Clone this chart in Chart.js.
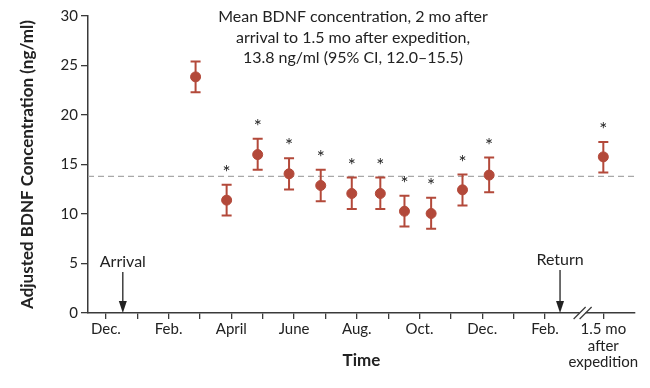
<!DOCTYPE html>
<html>
<head>
<meta charset="utf-8">
<script src="https://cdn.jsdelivr.net/npm/chart.js@4"></script>
<style>
  html, body { margin: 0; padding: 0; background: #fff; }
  #wrap { width: 650px; height: 388px; }
</style>
</head>
<body>
<div id="wrap"><canvas id="bdnfChart"></canvas></div>
<script>
// months counted from the first December (0 = Dec.)
const timePoints = [2.86, 3.85, 4.84, 5.84, 6.85, 7.84, 8.75, 9.52, 10.37, 11.37, 12.22, 15.86];
const meanValues = [23.85, 11.4, 16.0, 14.06, 12.88, 12.07, 12.07, 10.28, 10.05, 12.44, 13.93, 15.77];
const upperCI   = [25.4, 12.95, 17.6, 15.64, 14.46, 13.68, 13.68, 11.85, 11.63, 13.99, 15.7, 17.28];
const lowerCI   = [22.3, 9.85, 14.46, 12.47, 11.3, 10.5, 10.5, 8.74, 8.5, 10.86, 12.2, 14.19];
const significant = [false, true, true, true, true, true, true, true, true, true, true, true];

const tickPositions = [0, 1, 2, 3, 4, 5, 6, 7, 8, 9, 10, 11, 12, 13, 14, 15.86];
const tickLabels = {
  0: 'Dec.', 2: 'Feb.', 4: 'April', 6: 'June', 8: 'Aug.', 10: 'Oct.', 12: 'Dec.', 14: 'Feb.',
  15.86: ['1.5 mo', 'after', 'expedition']
};
const meanLine = 13.8;
const arrivalAt = 0.54;
const returnAt = 14.48;
const breakAt = 15.2;
const xMin = -0.57, xMax = 16.87;

const dotColor = '#b3493a';
const axisColor = '#3a3a3a';
const fontFamily = 'Lato, "Open Sans", sans-serif';

const errorBars = {
  id: 'errorBars',
  afterDatasetsDraw(chart) {
    const { ctx, scales: { x, y } } = chart;
    ctx.save();
    ctx.strokeStyle = dotColor;
    ctx.lineWidth = 2;
    timePoints.forEach((t, i) => {
      const px = x.getPixelForValue(t);
      const top = y.getPixelForValue(upperCI[i]);
      const bot = y.getPixelForValue(lowerCI[i]);
      ctx.beginPath();
      ctx.moveTo(px, top); ctx.lineTo(px, bot);
      ctx.moveTo(px - 5, top); ctx.lineTo(px + 5, top);
      ctx.moveTo(px - 5, bot); ctx.lineTo(px + 5, bot);
      ctx.stroke();
      if (significant[i]) {
        ctx.fillStyle = '#222';
        ctx.font = '19px ' + fontFamily;
        ctx.textAlign = 'center';
        ctx.textBaseline = 'middle';
        ctx.fillText('*', px, top - 12);
      }
    });
    ctx.restore();
  }
};

const annotations = {
  id: 'annotations',
  afterDraw(chart) {
    const { ctx, scales: { x, y } } = chart;
    const base = y.getPixelForValue(0);
    ctx.save();
    ctx.fillStyle = '#222';
    ctx.strokeStyle = '#222';
    ctx.textAlign = 'center';
    ctx.textBaseline = 'middle';
    ctx.font = '16px ' + fontFamily;
    // header text
    const lines = ['Mean BDNF concentration, 2 mo after',
                   'arrival to 1.5 mo after expedition,',
                   '13.8 ng/ml (95% CI, 12.0\u201315.5)'];
    lines.forEach((l, i) => ctx.fillText(l, 353, 17 + i * 20.5));

    // arrows
    [[arrivalAt, 'Arrival', 262], [returnAt, 'Return', 260]].forEach(([t, label, ly]) => {
      const px = x.getPixelForValue(t);
      ctx.fillText(label, px, ly);
      ctx.lineWidth = 1.3;
      ctx.beginPath();
      ctx.moveTo(px, ly + 10);
      ctx.lineTo(px, base - 8);
      ctx.stroke();
      ctx.beginPath();
      ctx.moveTo(px - 4, base - 12);
      ctx.lineTo(px + 4, base - 12);
      ctx.lineTo(px, base);
      ctx.closePath();
      ctx.fill();
    });

    // axis break
    const bx = x.getPixelForValue(breakAt);
    ctx.fillStyle = '#fff';
    ctx.fillRect(bx - 3, base - 3, 6, 6);
    ctx.strokeStyle = axisColor;
    ctx.lineWidth = 1.3;
    [-3, 3].forEach(d => {
      ctx.beginPath();
      ctx.moveTo(bx + d - 6, base + 6);
      ctx.lineTo(bx + d + 6, base - 6);
      ctx.stroke();
    });
    ctx.restore();
  }
};

new Chart(document.getElementById('bdnfChart'), {
  type: 'scatter',
  data: {
    datasets: [{
      label: 'BDNF',
      data: timePoints.map((t, i) => ({ x: t, y: meanValues[i] })),
      backgroundColor: dotColor,
      borderColor: dotColor,
      pointRadius: 5,
      pointHoverRadius: 5
    }, {
      label: 'Mean',
      type: 'line',
      data: [{ x: xMin, y: meanLine }, { x: xMax, y: meanLine }],
      borderColor: '#a8a8a8',
      borderWidth: 1.2,
      borderDash: [6, 4],
      pointRadius: 0,
      order: 2
    }]
  },
  options: {
    responsive: true,
    maintainAspectRatio: false,
    animation: false,
    layout: { padding: { top: 16, right: 15, left: 0, bottom: 0 } },
    plugins: { legend: { display: false }, tooltip: { enabled: false } },
    scales: {
      x: {
        type: 'linear',
        min: xMin,
        max: xMax,
        afterBuildTicks: scale => { scale.ticks = tickPositions.map(v => ({ value: v })); },
        afterFit: scale => { scale.height = 75; },
        ticks: {
          autoSkip: false,
          maxRotation: 0,
          padding: 2,
          color: '#222',
          font: { size: 15, family: fontFamily, lineHeight: 1.1 },
          callback: v => tickLabels[v] || ''
        },
        grid: { drawOnChartArea: false, drawTicks: true, tickLength: 6, color: axisColor, lineWidth: 1.3 },
        border: { color: axisColor, width: 1.5 },
        title: {
          display: true,
          text: 'Time',
          color: '#222',
          font: { size: 17, weight: 'bold', family: fontFamily },
          padding: { top: 0, bottom: 17 }
        }
      },
      y: {
        min: 0,
        max: 30,
        afterFit: scale => { scale.width = 88; },
        ticks: {
          stepSize: 5,
          padding: 3,
          color: '#222',
          font: { size: 15, family: fontFamily }
        },
        grid: { drawOnChartArea: false, drawTicks: true, tickLength: 7, color: axisColor, lineWidth: 1.3 },
        border: { color: axisColor, width: 1.5 },
        title: {
          display: true,
          text: 'Adjusted BDNF Concentration (ng/ml)',
          color: '#222',
          font: { size: 17, weight: 'bold', family: fontFamily },
          padding: { top: 17, bottom: 0 }
        }
      }
    }
  },
  plugins: [errorBars, annotations]
});
</script>
</body>
</html>
